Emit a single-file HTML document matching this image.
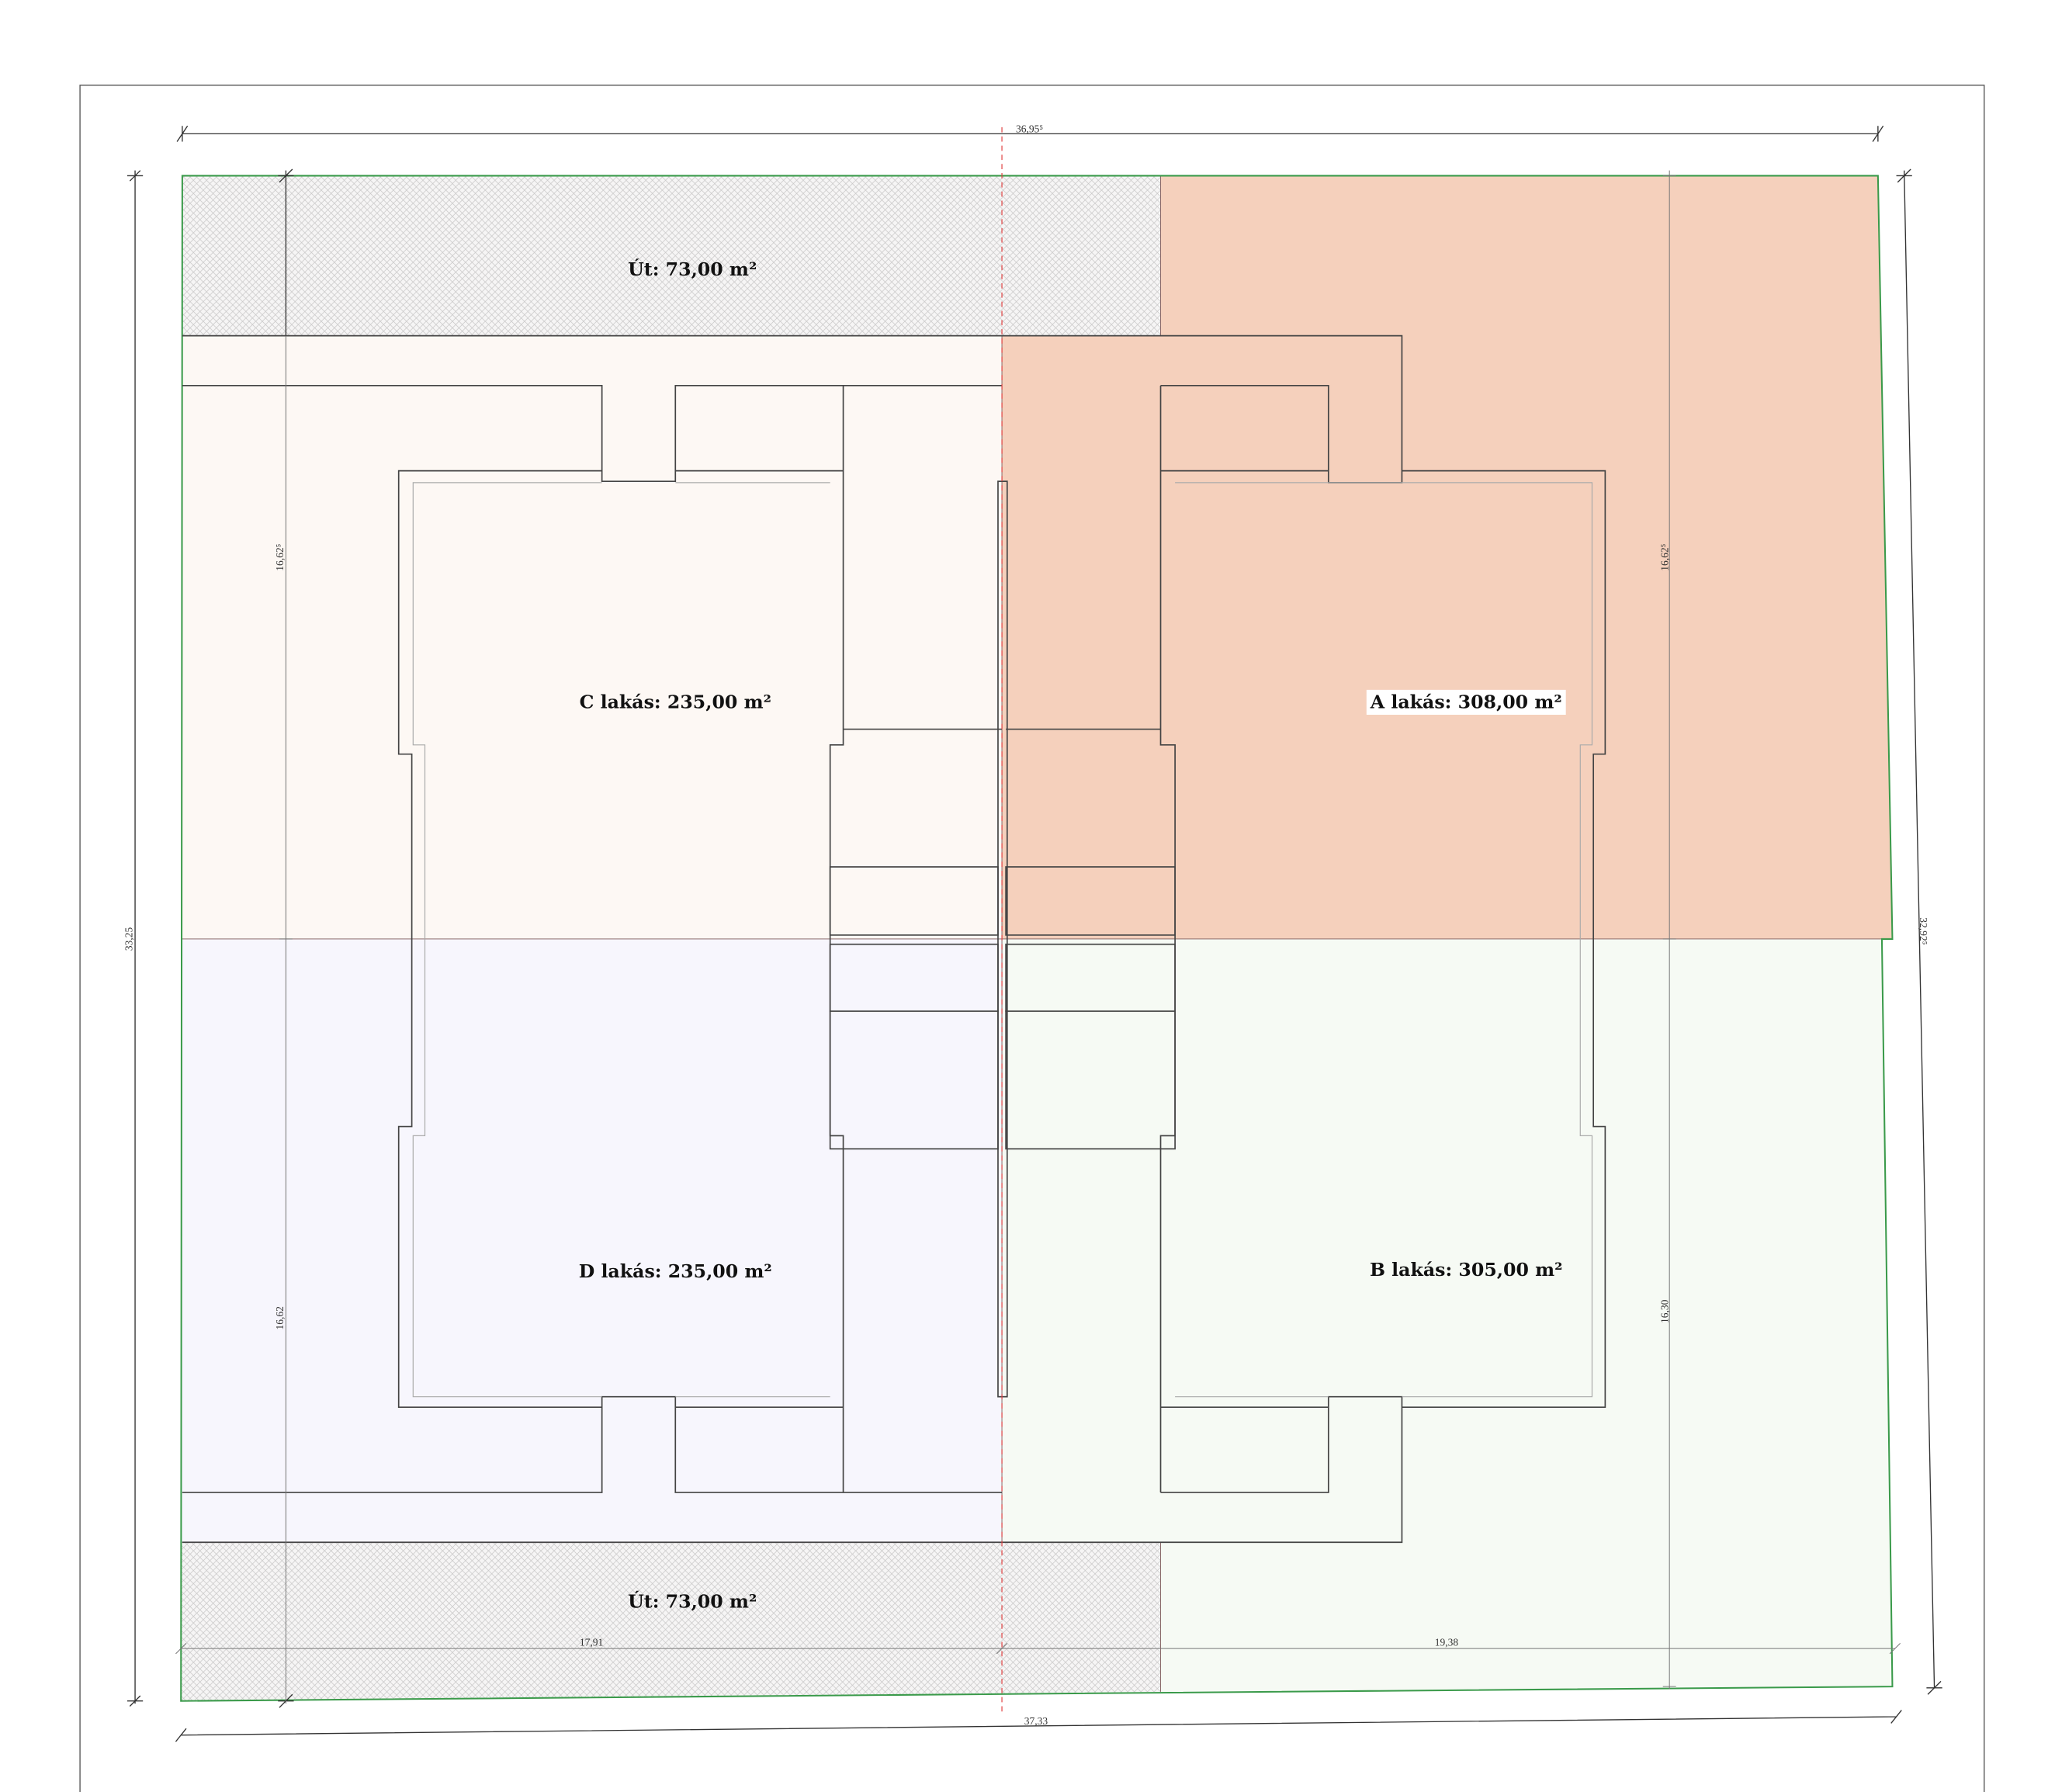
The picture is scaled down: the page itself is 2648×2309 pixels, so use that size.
<!DOCTYPE html>
<html><head><meta charset="utf-8"><style>html,body{margin:0;padding:0;background:#fff}svg{display:block}</style></head><body>
<svg width="2648" height="2309" viewBox="0 0 1567 1366.4" preserveAspectRatio="none" xmlns="http://www.w3.org/2000/svg" font-family="Liberation Serif, serif">
<defs>
<pattern id="h" width="5" height="5" patternUnits="userSpaceOnUse">
<rect width="5" height="5" fill="#f6f5f5"/>
<path d="M0 0L5 5M5 0L0 5" stroke="#c8c7c7" stroke-width="0.45"/>
</pattern>
</defs>
<rect width="1567" height="1367" fill="#fff"/>
<path d="M61 1367V65H1513V1367" fill="none" stroke="#555" stroke-width="0.8"/>
<rect x="139" y="256" width="625" height="460" fill="#fdf8f4"/>
<polygon points="764,256 885,256 885,134 1432,134 1443,716 764,716" fill="#f5d0bc"/>
<rect x="138" y="716" width="626" height="460" fill="#f7f6fd"/>
<polygon points="764,716 1435,716 1443,1286 885,1290 885,1176 764,1176" fill="#f6faf4"/>
<rect x="139" y="134" width="746" height="122" fill="url(#h)"/>
<polygon points="138,1176 885,1176 885,1290 138,1297" fill="url(#h)"/>
<path d="M139 716H1443M764 256V1176M885 134V256M885 1176V1290" stroke="#8a6a6a" stroke-width="0.6" fill="none"/>
<path d="M139 134H1432L1443 716H1435L1443 1286L138 1297Z" fill="none" stroke="#3a9a4a" stroke-width="1.2"/>
<g fill="none" stroke="#444" stroke-width="1">
<path d="M139 256H1069V368H1013V294H885M764 294H643M139 294H459V367H515V294H643"/>
<path d="M139 1176H1069V1065H1013V1138H885M764 1138H643M139 1138H459V1065H515V1138H643"/>
<path d="M459 359H304V575H314V859H304V1073H459M515 359H643M515 1073H643"/>
<path d="M643 294V556H764M643 556V568H633V866H643V1138"/>
<path d="M885 294V556H767M885 556V568H896V866H885V1138"/>
<path d="M885 359H1013M1069 359H1224V575H1215V859H1224V1073H1069M885 1073H1013"/>
<rect x="633" y="661" width="128" height="52"/><rect x="767" y="661" width="129" height="52"/>
<rect x="633" y="720" width="128" height="51"/><rect x="633" y="771" width="128" height="105"/>
<rect x="767" y="720" width="129" height="51"/><rect x="767" y="771" width="129" height="105"/>
<rect x="761" y="367" width="7" height="698"/>
</g>
<g fill="none" stroke="#aaa" stroke-width="0.7">
<path d="M459 368H315V568H324V866H315V1065H459M515 368H633M515 1065H633"/>
<path d="M1013 368H1214V568H1205V866H1214V1065H1069M896 368H1013M896 1065H1013"/>
</g>
<g stroke="#333" stroke-width="0.8" fill="none">
<path d="M139 102H1432M135 108L143 96M1428 108L1436 96M139 96V108M1432 96V108"/>
<path d="M103 130V1299M97 134H109M97 1297H109M99 138L107 130M99 1301L107 1293"/>
<path d="M218 130V256"/>
<path d="M212 134H224M213 139L223 129M212 1297H224M213 1302L223 1292"/>
<path d="M1452 130L1475 1287M1446 134H1458M1469 1287H1481M1447 139L1457 129M1470 1292L1480 1282"/>
<path d="M138 1323L1446 1309M134 1328L142 1318M1442 1314L1450 1304"/>
</g>
<g stroke="#777" stroke-width="0.6" fill="none">
<path d="M218 256V1299M1273 130V1288M138 1257H1445M213 716H223M1268 716H1278M1268 134H1278M1268 1286H1278M134 1261L142 1253M1441 1261L1449 1253M760 1261L768 1253"/>
</g>
<path d="M764 97V1305" stroke="#e04040" stroke-width="0.7" stroke-dasharray="4,3"/>
<g font-size="8" fill="#333">
<text x="785" y="101" text-anchor="middle">36,95⁵</text>
<text x="451" y="1255" text-anchor="middle">17,91</text>
<text x="1103" y="1255" text-anchor="middle">19,38</text>
<text x="790" y="1315" text-anchor="middle">37,33</text>
<text transform="translate(101,716) rotate(-90)" text-anchor="middle">33,25</text>
<text transform="translate(216,425) rotate(-90)" text-anchor="middle">16,62⁵</text>
<text transform="translate(216,1005) rotate(-90)" text-anchor="middle">16,62</text>
<text transform="translate(1272,425) rotate(-90)" text-anchor="middle">16,62⁵</text>
<text transform="translate(1272,1000) rotate(-90)" text-anchor="middle">16,30</text>
<text transform="translate(1464,710) rotate(90)" text-anchor="middle">32,92⁵</text>
</g>
<rect x="1042" y="526" width="152" height="19" fill="#fff"/>
<g font-size="14" font-weight="bold" fill="#111" text-anchor="middle" font-family="DejaVu Serif, serif">
<text x="528" y="210">Út: 73,00 m²</text>
<text x="515" y="540">C lakás: 235,00 m²</text>
<text x="1118" y="540">A lakás: 308,00 m²</text>
<text x="515" y="974">D lakás: 235,00 m²</text>
<text x="1118" y="973">B lakás: 305,00 m²</text>
<text x="528" y="1226">Út: 73,00 m²</text>
</g>
</svg>
</body></html>
